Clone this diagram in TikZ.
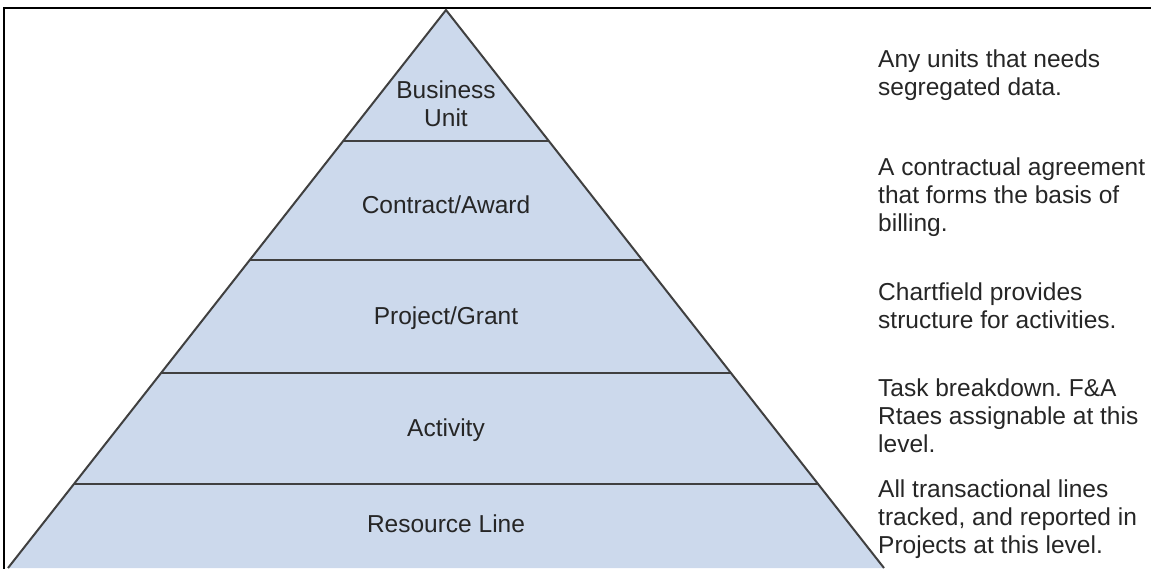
\documentclass[tikz,border=0pt]{standalone}
\usepackage{fontspec}
\setmainfont{Liberation Sans}
\usetikzlibrary{calc}
\definecolor{layerfill}{RGB}{204,217,236}
\definecolor{edgegray}{RGB}{64,64,64}
\definecolor{txtgray}{RGB}{38,38,38}
\frenchspacing
\begin{document}
\begin{tikzpicture}[x=1pt,y=-1pt,
  lbl/.style={font=\fontsize{24.5}{28}\selectfont, text=txtgray, inner sep=0pt},
  desc/.style={font=\fontsize{24.5}{28}\selectfont, text=txtgray, inner sep=0pt, align=left, anchor=north west},
  side/.style={draw=edgegray, line width=2pt},
  divider/.style={draw=edgegray, line width=2.2pt},
  frameline/.style={draw=black, line width=1.3pt}]
\useasboundingbox (0,0) rectangle (1151,568);
% frame
\coordinate (ftr) at (1151,8);
\coordinate (ftl) at (4,8);
\coordinate (fbl) at (4,570);
\draw[frameline] (ftr) -- (ftl) -- (fbl);
% pyramid
\coordinate (apex) at (446,10);
\coordinate (bl) at (8,568);
\coordinate (br) at (884,568);
\fill[layerfill] (apex) -- (bl) -- (br) -- cycle;
\foreach \f/\n in {0.2348/a,0.448/b,0.6505/c,0.8495/d}{
  \coordinate (l\n) at ($(apex)!\f!(bl)$);
  \coordinate (r\n) at ($(apex)!\f!(br)$);
  \draw[divider] (l\n) -- (r\n);
}
\draw[side] (bl) -- (apex) -- (br);
% level labels
\node[lbl, align=center, anchor=north] (bu) at (446,80.5) {Business\\Unit};
\node[lbl, anchor=base] (ca) at (446,213) {Contract/Award};
\node[lbl, anchor=base] (pg) at (446,324) {Project/Grant};
\node[lbl, anchor=base] (ac) at (446,436) {Activity};
\node[lbl, anchor=base] (rl) at (446,532) {Resource Line};
% descriptions
\node[desc] (d1) at (878,49.5) {Any units that needs\\segregated data.};
\node[desc] (d2) at (878,157.5) {A contractual agreement\\that forms the basis of\\billing.};
\node[desc] (d3) at (878,282.5) {Chartfield provides\\structure for activities.};
\node[desc] (d4) at (878,378.5) {Task breakdown. F\&A\\Rtaes assignable at this\\level.};
\node[desc] (d5) at (878,479.5) {All transactional lines\\tracked, and reported in\\Projects at this level.};
\end{tikzpicture}
\end{document}
